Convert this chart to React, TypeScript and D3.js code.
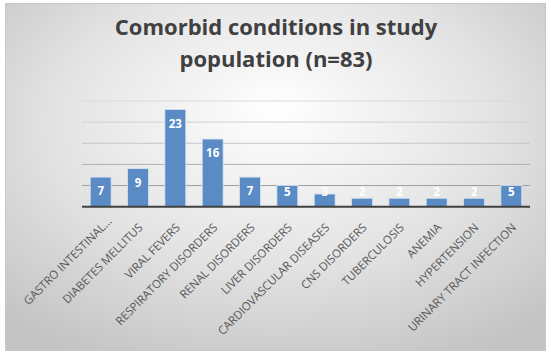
import React from "react";
import * as d3 from "d3";

const categories = [
  "GASTRO INTESTINAL...",
  "DIABETES MELLITUS",
  "VIRAL FEVERS",
  "RESPIRATORY DISORDERS",
  "RENAL DISORDERS",
  "LIVER DISORDERS",
  "CARDIOVASCULAR DISEASES",
  "CNS DISORDERS",
  "TUBERCULOSIS",
  "ANEMIA",
  "HYPERTENSION",
  "URINARY TRACT INFECTION",
];
const values = [7, 9, 23, 16, 7, 5, 3, 2, 2, 2, 2, 5];
const gridTicks = [5, 10, 15, 20, 25];
const gridColors = ["#9e9e9e", "#b0b0b0", "#c6c6c6", "#d0d0d0", "#dadada"];
const titleLines = ["Comorbid conditions in study", "population (n=83)"];

const W = 551;
const H = 356;
const plot = { left: 82, right: 530, top: 101, bottom: 206.7 };

export default function App() {
  const x = d3
    .scaleBand<string>()
    .domain(categories)
    .range([plot.left, plot.right])
    .paddingInner(0.44)
    .paddingOuter(0.22);
  const y = d3.scaleLinear().domain([0, 25]).range([plot.bottom, plot.top]);
  const labelFont = "'Open Sans', 'Liberation Sans', sans-serif";

  return (
    <svg
      width={W}
      height={H}
      style={{ position: "absolute", left: 0, top: 0 }}
      fontFamily={labelFont}
    >
      <defs>
        <radialGradient id="bg" cx="50%" cy="38%" r="72%" fx="50%" fy="30%">
          <stop offset="0%" stopColor="#ffffff" />
          <stop offset="55%" stopColor="#e4e4e4" />
          <stop offset="100%" stopColor="#c4c4c4" />
        </radialGradient>
      </defs>
      <rect x={0} y={0} width={W} height={H} fill="#ffffff" />
      <rect x={5.5} y={3.5} width={540} height={347} fill="url(#bg)" stroke="#c8c8c8" strokeWidth={1} />
      {titleLines.map((t, i) => (
        <text
          key={t}
          x={276}
          y={35 + i * 31.5}
          textAnchor="middle"
          fontSize={22}
          fontWeight="bold"
          fill="#404040"
        >
          {t}
        </text>
      ))}
      {gridTicks.map((t, i) => (
        <line
          key={t}
          x1={plot.left}
          x2={plot.right}
          y1={y(t)}
          y2={y(t)}
          stroke={gridColors[i]}
          strokeWidth={1}
        />
      ))}
      {categories.map((c, i) => {
        const bx = x(c)!;
        const top = y(values[i]);
        const ly = Math.min(top + 14, plot.bottom - 15);
        return (
          <g key={c}>
            <rect
              x={bx}
              y={top}
              width={x.bandwidth()}
              height={plot.bottom - top}
              fill="#5b8bc5"
              stroke="#d6e2f1"
              strokeWidth={0.8}
            />
            <text
              x={bx + x.bandwidth() / 2}
              y={ly}
              dy="0.36em"
              textAnchor="middle"
              fontSize={11.5}
              fontWeight="bold"
              fill="#ffffff"
            >
              {values[i]}
            </text>
          </g>
        );
      })}
      <line x1={plot.left} x2={plot.right} y1={plot.bottom} y2={plot.bottom} stroke="#404040" strokeWidth={2} />
      {categories.map((c) => {
        const cx = x(c)! + x.bandwidth() / 2;
        const truncated = c.endsWith("...");
        const base = truncated ? c.slice(0, -3) : c;
        const tr = `translate(${cx + 5.5},${plot.bottom + 21.5}) rotate(-45)`;
        return (
          <g key={"l" + c} fontSize={11.5} fill="#595959">
            <text transform={tr} textAnchor="end">
              {base}
            </text>
            {truncated && (
              <text transform={tr} textAnchor="start">
                ...
              </text>
            )}
          </g>
        );
      })}
    </svg>
  );
}
